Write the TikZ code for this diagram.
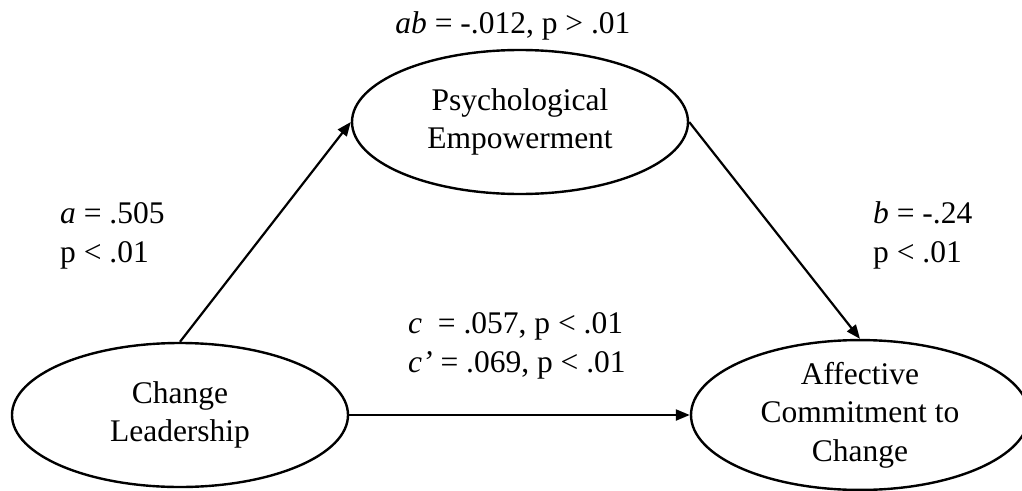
\documentclass[tikz,border=0pt]{standalone}
\usepackage{fontspec}
\setmainfont{Liberation Serif}
\usetikzlibrary{shapes.geometric,arrows.meta}
\begin{document}
\begin{tikzpicture}[x=1pt,y=-1pt,
  every node/.style={font=\fontsize{31.5}{38.5}\selectfont},
  construct/.style={draw,ellipse,line width=2.4pt,inner sep=0pt,align=center,
    minimum width=336pt,minimum height=144pt},
  path/.style={line width=2.2pt,-{Triangle[length=14pt,width=11pt]}},
  lbl/.style={inner sep=0pt}]
\useasboundingbox (0,0) rectangle (1022,490);
\node[construct] (PE) at (520,122) {Psychological\\Empowerment};
\node[construct] (CL) at (180,415) {Change\\Leadership};
\node[construct,minimum width=338pt,minimum height=146pt] (AC) at (860,415) {Affective\\Commitment to\\Change};
\draw[path] (CL.north) -- (PE.west);
\draw[path] (PE.east) -- (AC.north);
\draw[path] (CL.east) -- (AC.west);
\node[lbl,anchor=base] (ab) at (513,33) {\textit{ab} = -.012, p > .01};
\node[lbl,anchor=base west] (a1) at (60,223) {\textit{a} = .505};
\node[lbl,anchor=base west] (a2) at (60,262) {p < .01};
\node[lbl,anchor=base west] (b1) at (873,223) {\textit{b} = -.24};
\node[lbl,anchor=base west] (b2) at (873,262) {p < .01};
\node[lbl,anchor=base west] (c1) at (408,333) {\textit{c}\ \ = .057, p < .01};
\node[lbl,anchor=base west] (c2) at (408,372) {\textit{c’} = .069, p < .01};
\end{tikzpicture}
\end{document}
